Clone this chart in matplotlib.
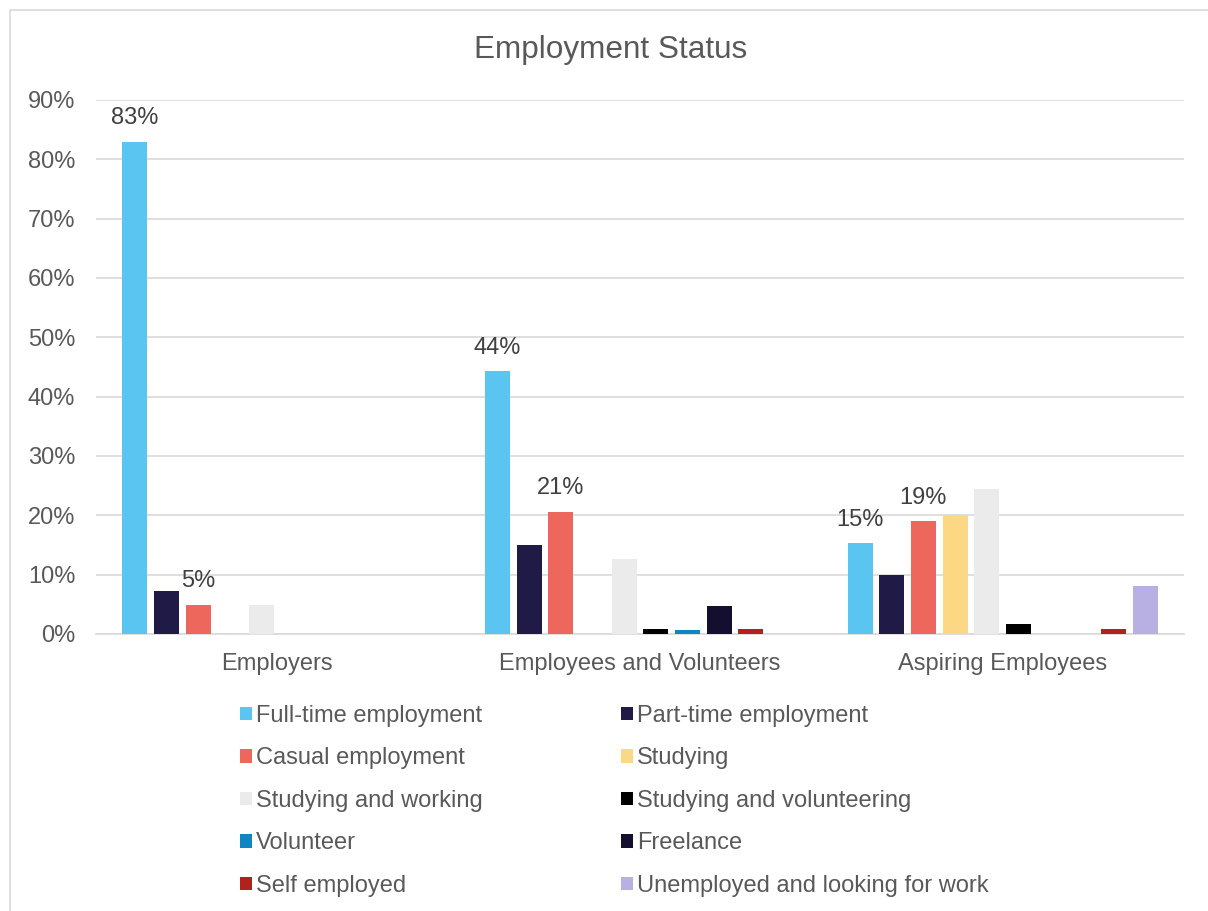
import numpy as np
import matplotlib
matplotlib.use('Agg')
from matplotlib import pyplot as plt
from matplotlib.patches import Rectangle

plt.rcParams['font.family'] = ['Liberation Sans', 'DejaVu Sans']

groups = ['Employers', 'Employees and Volunteers', 'Aspiring Employees']
statuses = ['Full-time employment', 'Part-time employment', 'Casual employment',
            'Studying', 'Studying and working', 'Studying and volunteering',
            'Volunteer', 'Freelance', 'Self employed',
            'Unemployed and looking for work']
colors = ['#5BC5F2', '#201A47', '#EE675C', '#FCD784', '#EBEBEB',
          '#000000', '#0F86C2', '#140F2E', '#B0221A', '#B8B0E2']

# share per status, one value per group
full_time = [83, 44.3, 15.3]
part_time = [7.2, 15.0, 9.9]
casual = [4.9, 20.6, 19.0]
studying = [0, 0, 20.0]
study_work = [4.9, 12.6, 24.4]
study_volunteer = [0, 0.8, 1.7]
volunteer = [0, 0.7, 0]
freelance = [0, 4.7, 0]
self_employed = [0, 0.8, 0.9]
unemployed = [0, 0, 8.1]
values = [full_time, part_time, casual, studying, study_work,
          study_volunteer, volunteer, freelance, self_employed, unemployed]

# which bars carry a value label: (status index, group index)
labelled = [(0, 0), (2, 0), (0, 1), (2, 1), (0, 2), (2, 2)]

text_col = '#595959'
W, H = 1208, 911
fig = plt.figure(figsize=(W / 100, H / 100), dpi=100)
ax = fig.add_axes([96 / W, 1 - 634 / H, 1088 / W, 534 / H])

x = np.arange(len(groups))
slot = 0.0874
width = 0.069
n = len(statuses)
handles = []
for i, (vals, col) in enumerate(zip(values, colors)):
    pos = x + (i - (n - 1) / 2) * slot
    b = ax.bar(pos, vals, width=width, color=col, label=statuses[i], zorder=3)
    handles.append(b)

for si, gi in labelled:
    v = values[si][gi]
    xp = x[gi] + (si - (n - 1) / 2) * slot
    ax.text(xp, v + 2.1, '{:.0f}%'.format(v), ha='center', va='bottom',
            fontsize=17, color='#404040')

ax.set_xlim(-0.5, 2.5)
ax.set_ylim(0, 90)
ax.set_yticks(np.arange(0, 91, 10))
ax.set_yticklabels(['{}%'.format(t) for t in range(0, 91, 10)])
ax.set_xticks(x)
ax.set_xticklabels(groups)
ax.tick_params(axis='both', length=0, labelsize=17, colors=text_col)
ax.tick_params(axis='x', pad=14)
ax.tick_params(axis='y', pad=15)
ax.grid(axis='y', color='#D9D9D9', linewidth=1.2, zorder=0)
for s in ['top', 'right', 'left']:
    ax.spines[s].set_visible(False)
ax.spines['bottom'].set_color('#D9D9D9')
ax.spines['bottom'].set_linewidth(1.2)

fig.text(611 / W, 1 - 50 / H, 'Employment Status', ha='center', va='center',
         fontsize=22.7, color=text_col)

# legend fills column by column, so interleave to read across rows
order = list(range(0, n, 2)) + list(range(1, n, 2))
fig.legend([handles[i] for i in order], [statuses[i] for i in order],
           loc='upper left', bbox_to_anchor=(228 / W, 1 - 693 / H),
           ncol=2, frameon=False, fontsize=17, borderpad=0,
           handlelength=0.5, handleheight=0.5, handletextpad=0.2,
           columnspacing=5.83, labelspacing=0.87, labelcolor=text_col)

fig.patches.append(Rectangle((10 / W, -0.05), 1.1, 1 - 10 / H + 0.05,
                             transform=fig.transFigure, fill=False,
                             edgecolor='#D9D9D9', linewidth=1.2))

fig.savefig('out.png', dpi=100)
